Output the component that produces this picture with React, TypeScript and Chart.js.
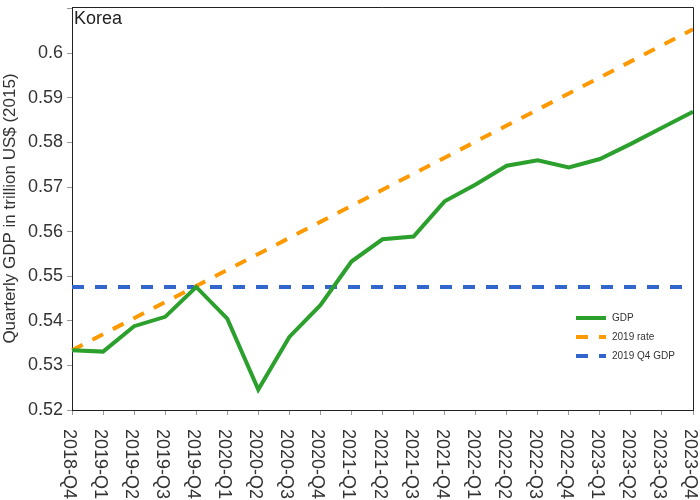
import React, { useEffect, useRef } from "react";
import { Chart, registerables } from "chart.js";

Chart.register(...registerables);

const categories = [
  "2018-Q4", "2019-Q1", "2019-Q2", "2019-Q3", "2019-Q4",
  "2020-Q1", "2020-Q2", "2020-Q3", "2020-Q4",
  "2021-Q1", "2021-Q2", "2021-Q3", "2021-Q4",
  "2022-Q1", "2022-Q2", "2022-Q3", "2022-Q4",
  "2023-Q1", "2023-Q2", "2023-Q3", "2023-Q4",
];

const gdp = [
  0.5334, 0.5331, 0.5388, 0.5409, 0.5476,
  0.5405, 0.5246, 0.5364, 0.5435,
  0.5533, 0.5583, 0.5589, 0.5668,
  0.5706, 0.5748, 0.5760, 0.5744,
  0.5763, 0.5797, 0.5833, 0.5869,
];

const rate2019 = [
  0.5334, 0.5370, 0.5406, 0.5442, 0.5478,
  0.5514, 0.5550, 0.5586, 0.5622,
  0.5658, 0.5694, 0.5730, 0.5766,
  0.5802, 0.5838, 0.5874, 0.5910,
  0.5946, 0.5982, 0.6018, 0.6054,
];

const q4Gdp2019 = [
  0.5476, 0.5476, 0.5476, 0.5476, 0.5476,
  0.5476, 0.5476, 0.5476, 0.5476,
  0.5476, 0.5476, 0.5476, 0.5476,
  0.5476, 0.5476, 0.5476, 0.5476,
  0.5476, 0.5476, 0.5476, 0.5476,
];

const yTicks = [0.52, 0.53, 0.54, 0.55, 0.56, 0.57, 0.58, 0.59, 0.6, 0.61];
const yMin = 0.52;
const yMax = 0.6104;
const countryLabel = "Korea";
const yTitle = "Quarterly GDP in trillion US$ (2015)";

const FONT = "'Liberation Sans', Arial, sans-serif";

const overlayPlugin = {
  id: "overlay",
  afterDraw(chart: any) {
    const { ctx, chartArea } = chart;
    const xScale = chart.scales.x;
    ctx.save();
    // frame top + right
    ctx.strokeStyle = "#222";
    ctx.lineWidth = 1;
    ctx.beginPath();
    ctx.moveTo(chartArea.left, chartArea.top + 0.5);
    ctx.lineTo(chartArea.right + 0.5, chartArea.top + 0.5);
    ctx.lineTo(chartArea.right + 0.5, chartArea.bottom);
    ctx.stroke();

    // country label
    ctx.fillStyle = "#222";
    ctx.font = `18px ${FONT}`;
    ctx.textAlign = "left";
    ctx.textBaseline = "top";
    ctx.fillText(countryLabel, chartArea.left + 2, chartArea.top + 3);

    // x labels rotated clockwise
    ctx.fillStyle = "#333";
    ctx.font = `18px ${FONT}`;
    ctx.textAlign = "left";
    ctx.textBaseline = "middle";
    categories.forEach((c, i) => {
      const x = xScale.getPixelForValue(i);
      ctx.save();
      ctx.translate(x - 3, chartArea.bottom + 19);
      ctx.rotate(Math.PI / 2);
      ctx.fillText(c, 0, 0);
      ctx.restore();
    });

    // legend
    const items = chart.data.datasets;
    const lx = chartArea.right - 117;
    const ly = chartArea.top + 311;
    ctx.font = `10px ${FONT}`;
    ctx.textBaseline = "middle";
    items.forEach((ds: any, i: number) => {
      const y = ly + i * 19;
      ctx.save();
      ctx.strokeStyle = ds.borderColor;
      ctx.lineWidth = 4;
      ctx.setLineDash(ds.borderDash || []);
      ctx.beginPath();
      ctx.moveTo(lx, y);
      ctx.lineTo(lx + 30, y);
      ctx.stroke();
      ctx.restore();
      ctx.fillStyle = "#333";
      ctx.fillText(ds.label, lx + 36, y);
    });
    ctx.restore();
  },
};

export default function App() {
  const canvasRef = useRef<HTMLCanvasElement | null>(null);

  useEffect(() => {
    if (!canvasRef.current) return;
    const chart = new Chart(canvasRef.current, {
      type: "line",
      data: {
        labels: categories,
        datasets: [
          {
            label: "GDP",
            data: gdp,
            borderColor: "#2ca02c",
            borderWidth: 4,
            pointRadius: 0,
            tension: 0,
            fill: false,
          },
          {
            label: "2019 rate",
            data: rate2019,
            borderColor: "#ff9900",
            borderWidth: 4,
            borderDash: [12, 11],
            pointRadius: 0,
            tension: 0,
            fill: false,
          },
          {
            label: "2019 Q4 GDP",
            data: q4Gdp2019,
            borderColor: "#3366cc",
            borderWidth: 4,
            borderDash: [12, 11],
            pointRadius: 0,
            tension: 0,
            fill: false,
          },
        ],
      },
      options: {
        animation: false,
        responsive: true,
        maintainAspectRatio: false,
        layout: { autoPadding: false, padding: { top: 7, right: 7, left: 0, bottom: 0 } },
        plugins: {
          legend: { display: false },
          tooltip: { enabled: false },
          title: { display: false },
        },
        scales: {
          x: {
            type: "category",
            offset: false,
            grid: { drawOnChartArea: false, drawTicks: true, tickLength: 5, color: "#999" },
            border: { display: true, color: "#222", width: 1 },
            ticks: { autoSkip: false, color: "rgba(0,0,0,0)", maxRotation: 0, font: { size: 1 } },
            afterFit: (s: any) => {
              s.height = 90;
              s.paddingLeft = 0;
              s.paddingRight = 0;
              s.paddingTop = 0;
              s.paddingBottom = 0;
            },
          },
          y: {
            min: yMin,
            max: yMax,
            grid: { drawOnChartArea: false, drawTicks: true, tickLength: 5, color: "#999" },
            border: { display: true, color: "#222", width: 1 },
            afterBuildTicks: (s: any) => { s.ticks = yTicks.map((v) => ({ value: v })); },
            ticks: {
              color: "#333",
              padding: 4,
              font: { family: FONT, size: 18 },
              callback: (v: any) => (Math.abs(Number(v) - 0.61) < 1e-6 ? "" : String(Number(Number(v).toFixed(2)))),
            },
            title: {
              display: true,
              text: yTitle,
              color: "#333",
              font: { family: FONT, size: 17 },
              padding: { top: 0, bottom: 0 },
            },
            afterFit: (s: any) => {
              s.width = 72;
              s.paddingTop = 0;
              s.paddingBottom = 0;
              s.paddingLeft = 0;
              s.paddingRight = 0;
            },
          },
        },
      },
      plugins: [overlayPlugin],
    });
    return () => chart.destroy();
  }, []);

  return (
    <div style={{ position: "fixed", left: 0, top: 0, width: 700, height: 500, background: "#fff" }}>
      <canvas ref={canvasRef} />
    </div>
  );
}
